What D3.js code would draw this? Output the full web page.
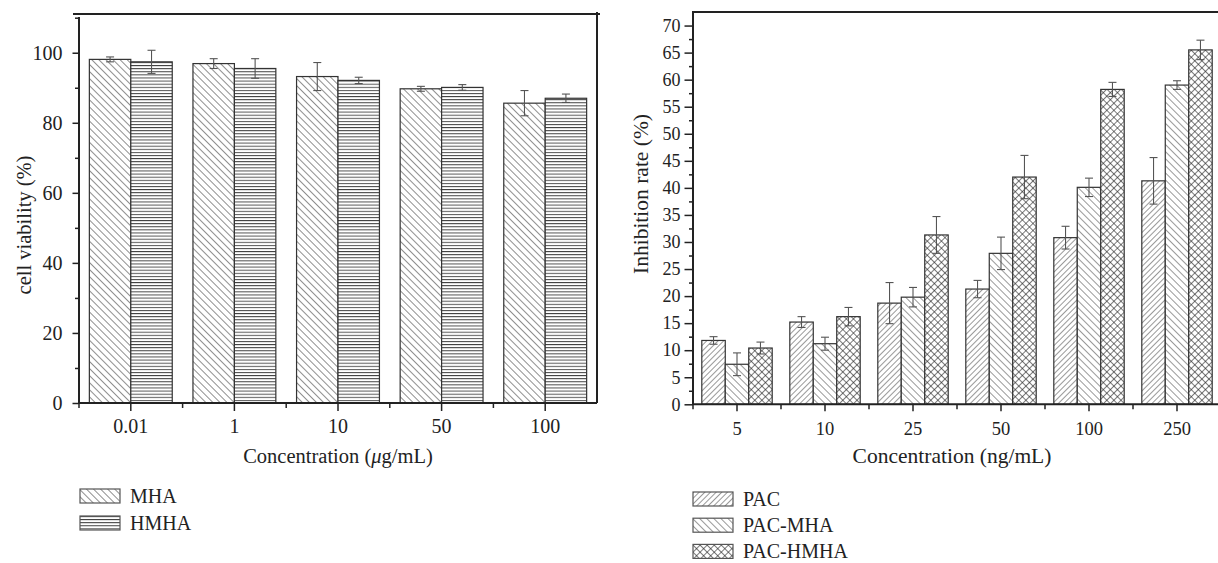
<!DOCTYPE html>
<html>
<head>
<meta charset="utf-8">
<script src="https://cdn.jsdelivr.net/npm/d3@7"></script>
<style>
	body { margin: 0; background: #fff; }
	svg text { font-family: "Liberation Serif", "DejaVu Serif", serif; fill: #222; }
</style>
</head>
<body>
<div id="vis"></div>
<script>
// left chart: cell viability
var viabConc = ["0.01", "1", "10", "50", "100"];
var viabSeries = ["MHA", "HMHA"];
var viabMHA = [98.1, 96.9, 93.2, 89.7, 85.6];
var viabMHAErr = [0.7, 1.4, 4.0, 0.7, 3.6];
var viabHMHA = [97.4, 95.5, 92.1, 90.1, 87.0];
var viabHMHAErr = [3.3, 2.8, 0.9, 0.8, 1.2];
var viabTicks = [0, 20, 40, 60, 80, 100];

// right chart: inhibition rate
var inhConc = ["5", "10", "25", "50", "100", "250"];
var inhSeries = ["PAC", "PAC-MHA", "PAC-HMHA"];
var inhPAC = [11.8, 15.2, 18.7, 21.3, 30.8, 41.3];
var inhPACErr = [0.7, 1.0, 3.8, 1.6, 2.1, 4.3];
var inhPACMHA = [7.4, 11.2, 19.8, 27.9, 40.1, 59.0];
var inhPACMHAErr = [2.1, 1.2, 1.8, 3.0, 1.7, 0.8];
var inhPACHMHA = [10.4, 16.2, 31.3, 42.0, 58.2, 65.5];
var inhPACHMHAErr = [1.1, 1.7, 3.4, 4.0, 1.3, 1.8];
var inhTicks = d3.range(0, 71, 5);

function init(){
	var svg = d3.select("#vis").append("svg")
				.attr("width", 1218)
				.attr("height", 563);

	makePatterns(svg);

	//left panel
	var dataL = viabConc.map(function(c, i){
		return {cat: c, vals: [
			{key: "MHA", v: viabMHA[i], e: viabMHAErr[i]},
			{key: "HMHA", v: viabHMHA[i], e: viabHMHAErr[i]}
		]};
	});
	barPanel(svg, {
		left: 79, right: 597, top: 17, bottom: 403,
		ymax: 110.2, ticks: viabTicks, minorStep: 10,
		data: dataL, cats: viabConc, series: viabSeries,
		fill: {"MHA": "url(#pMHA)", "HMHA": "url(#pHMHA)"},
		yTickFont: 20, xTickFont: 20, yTickSize: 6.5, yTickPad: 10, xTickSize: 8, xTickPad: 8,
		frameTop: 14, frameLeft: 73, frameRight: 600, rightLine: true,
		xlabel: ["Concentration (", "\u03bc", "g/mL)"], xlabelX: 338, xlabelY: 463,
		ylabel: "cell viability (%)", ylabelX: 31, ylabelY: 225, labelFont: 20.5,
		legendX: 80, legendY: 489, legendStep: 27
	});

	//right panel
	var dataR = inhConc.map(function(c, i){
		return {cat: c, vals: [
			{key: "PAC", v: inhPAC[i], e: inhPACErr[i]},
			{key: "PAC-MHA", v: inhPACMHA[i], e: inhPACMHAErr[i]},
			{key: "PAC-HMHA", v: inhPACHMHA[i], e: inhPACHMHAErr[i]}
		]};
	});
	barPanel(svg, {
		left: 693, right: 1221, top: 12.3, bottom: 404.3,
		ymax: 72.45, ticks: inhTicks, minorStep: 2.5,
		data: dataR, cats: inhConc, series: inhSeries,
		fill: {"PAC": "url(#pPAC)", "PAC-MHA": "url(#pPACMHA)", "PAC-HMHA": "url(#pPACHMHA)"},
		yTickFont: 18, xTickFont: 18.5, yTickSize: 8.5, yTickPad: 4, xTickSize: 7, xTickPad: 11,
		frameTop: 12, frameLeft: 692, frameRight: 1218, rightLine: false,
		xlabel: ["Concentration (ng/mL)"], xlabelX: 952, xlabelY: 463,
		ylabel: "Inhibition rate (%)", ylabelX: 648, ylabelY: 194, labelFont: 21.5,
		legendX: 693, legendY: 492, legendStep: 26.2
	});
}

function hatch(defs, id, size, angle, width, color, cross){
	var p = defs.append("pattern").attr("id", id).attr("patternUnits", "userSpaceOnUse")
				.attr("width", size).attr("height", size)
				.attr("patternTransform", "rotate(" + angle + ")");
	p.append("rect").attr("width", size).attr("height", size).attr("fill", "white");
	p.append("line").attr("x1", 0).attr("y1", 0).attr("x2", size).attr("y2", 0)
	 .attr("stroke", color).attr("stroke-width", width);
	if(cross){
		p.append("line").attr("x1", 0).attr("y1", 0).attr("x2", 0).attr("y2", size)
		 .attr("stroke", color).attr("stroke-width", width);
	}
}

function makePatterns(svg){
	var defs = svg.append("defs");
	hatch(defs, "pMHA", 5, 45, 1.1, "#333", false);      // "\\\\"
	hatch(defs, "pPAC", 4, -45, 1, "#333", false);       // "////"
	hatch(defs, "pPACMHA", 5, 45, 1, "#333", false);     // "\\\\"
	hatch(defs, "pPACHMHA", 5, 45, 1.2, "#222", true);   // crosshatch

	//HMHA: horizontal lines
	var p = defs.append("pattern").attr("id", "pHMHA").attr("patternUnits", "userSpaceOnUse")
			.attr("width", 6).attr("height", 3.1);
	p.append("rect").attr("width", 6).attr("height", 3.1).attr("fill", "white");
	p.append("line").attr("x1", 0).attr("y1", 0.5).attr("x2", 6).attr("y2", 0.5)
	 .attr("stroke", "#333").attr("stroke-width", 0.9);
}

function barPanel(svg, o){
	var x = d3.scaleBand().domain(o.cats).range([o.left, o.right]);
	var x1 = d3.scaleBand().domain(o.series)
			   .range([0, x.bandwidth() * 0.8]);
	var y = d3.scaleLinear().domain([0, o.ymax]).range([o.bottom, o.top]);

	var g = svg.append("g");

	//bars
	var groups = g.selectAll("g.grp").data(o.data).enter()
				  .append("g")
				  .attr("transform", d => "translate(" + (x(d.cat) + x.bandwidth() * 0.1) + ",0)");

	groups.selectAll("rect").data(d => d.vals).enter()
		  .append("rect")
		  .attr("x", d => x1(d.key))
		  .attr("y", d => y(d.v))
		  .attr("width", x1.bandwidth())
		  .attr("height", d => o.bottom - y(d.v))
		  .attr("fill", d => o.fill[d.key])
		  .attr("stroke", "#333")
		  .attr("stroke-width", 1.2);

	//error bars
	var err = groups.selectAll("g.err").data(d => d.vals).enter().append("g")
					.attr("stroke", "#555").attr("stroke-width", 1.1);
	var cx = d => x1(d.key) + x1.bandwidth()/2;
	err.append("line")
	   .attr("x1", cx).attr("x2", cx)
	   .attr("y1", d => y(d.v + d.e))
	   .attr("y2", d => y(d.v - d.e));
	err.append("line")
	   .attr("x1", d => cx(d) - 4).attr("x2", d => cx(d) + 4)
	   .attr("y1", d => y(d.v + d.e))
	   .attr("y2", d => y(d.v + d.e));
	err.append("line")
	   .attr("x1", d => cx(d) - 4).attr("x2", d => cx(d) + 4)
	   .attr("y1", d => y(d.v - d.e))
	   .attr("y2", d => y(d.v - d.e));

	//frame
	g.append("line").attr("x1", o.frameLeft).attr("x2", o.frameRight)
	 .attr("y1", o.frameTop).attr("y2", o.frameTop)
	 .attr("stroke", "#222").attr("stroke-width", 2);
	if(o.rightLine){
		g.append("line").attr("x1", o.right).attr("x2", o.right)
		 .attr("y1", o.frameTop - 2).attr("y2", o.bottom)
		 .attr("stroke", "#222").attr("stroke-width", 2);
	}

	//y axis: major + minor ticks
	var minor = d3.range(0, o.ymax, o.minorStep).filter(v => o.ticks.indexOf(v) < 0);
	var yMinor = g.append("g").attr("transform", "translate(" + o.left + ",0)")
				  .call(d3.axisLeft(y).tickValues(minor).tickSize(4).tickFormat(""));
	var yAxis = g.append("g").attr("transform", "translate(" + o.left + ",0)")
				 .call(d3.axisLeft(y).tickValues(o.ticks).tickSize(o.yTickSize).tickPadding(o.yTickPad));
	yMinor.select(".domain").remove();
	yAxis.select(".domain").attr("stroke", "#222").attr("stroke-width", 2)
		 .attr("d", "M0," + o.top + "V" + o.bottom);
	[yMinor, yAxis].forEach(function(a){
		a.selectAll(".tick line").attr("stroke", "#222").attr("stroke-width", 1.5);
	});
	yAxis.selectAll("text").style("font-size", o.yTickFont + "px").attr("fill", "#222");

	//x axis: ticks at centers and boundaries
	var xAxis = g.append("g").attr("transform", "translate(0," + o.bottom + ")")
				 .call(d3.axisBottom(x).tickSize(o.xTickSize).tickPadding(o.xTickPad));
	xAxis.select(".domain").attr("stroke", "#222").attr("stroke-width", 2)
		 .attr("d", "M" + o.left + ",0H" + o.right);
	xAxis.selectAll(".tick line").attr("stroke", "#222").attr("stroke-width", 1.5);
	xAxis.selectAll("text").style("font-size", o.xTickFont + "px").attr("fill", "#222");
	var bounds = o.cats.map(c => x(c));
	g.append("g").selectAll("line").data(bounds).enter().append("line")
	 .attr("x1", d => d).attr("x2", d => d)
	 .attr("y1", o.bottom).attr("y2", o.bottom + 5)
	 .attr("stroke", "#222").attr("stroke-width", 1.5);

	//axis titles (middle part of x title in italics when given)
	var xt = g.append("text").attr("x", o.xlabelX).attr("y", o.xlabelY)
			  .attr("text-anchor", "middle").style("font-size", o.labelFont + "px");
	o.xlabel.forEach(function(s, i){
		xt.append("tspan").style("font-style", i == 1 ? "italic" : "normal").text(s);
	});
	g.append("text")
	 .attr("transform", "translate(" + o.ylabelX + "," + o.ylabelY + ") rotate(-90)")
	 .attr("text-anchor", "middle").style("font-size", o.labelFont + "px")
	 .text(o.ylabel);

	//legend
	var leg = g.selectAll("g.leg").data(o.series).enter().append("g")
			   .attr("transform", (d, i) => "translate(" + o.legendX + "," + (o.legendY + i * o.legendStep) + ")");
	leg.append("rect").attr("width", 40).attr("height", 14)
	   .attr("fill", d => o.fill[d]).attr("stroke", "#555").attr("stroke-width", 1.2);
	leg.append("text").attr("x", 50).attr("y", 13.5)
	   .style("font-size", "20px").text(d => d);
}

window.onload = init;
</script>
</body>
</html>
